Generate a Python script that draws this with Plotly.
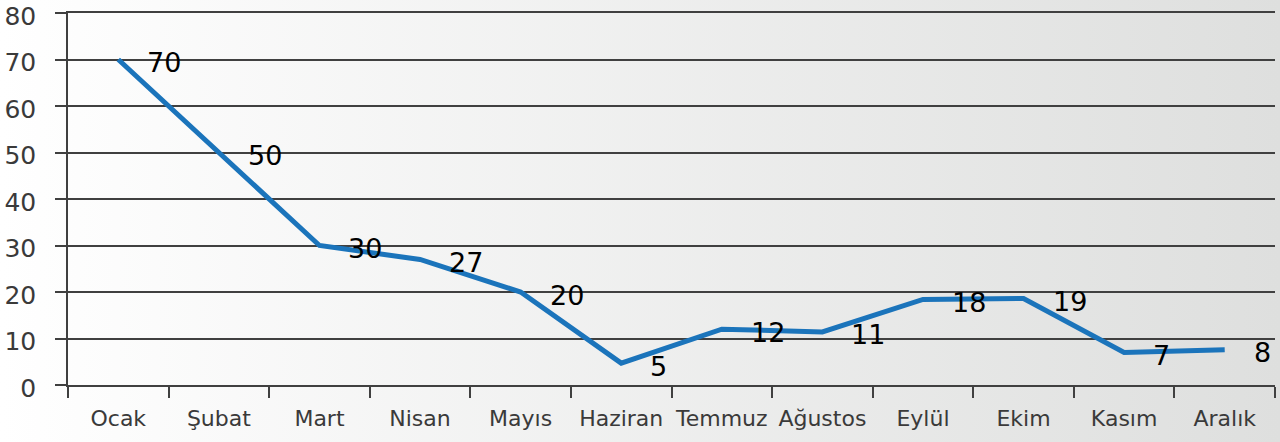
import base64
import plotly.graph_objects as go

months = ["Ocak", "Şubat", "Mart", "Nisan", "Mayıs", "Haziran", "Temmuz",
          "Ağustos", "Eylül", "Ekim", "Kasım", "Aralık"]
values = [70, 50, 30, 27, 20, 4.7, 12, 11.4, 18.4, 18.6, 7.0, 7.6]
labels = ["70", "50", "30", "27", "20", "5", "12", "11", "18", "19", "7", "8"]
y_ticks = [0, 10, 20, 30, 40, 50, 60, 70, 80]

FONT = "DejaVu Sans"
GRID = "#404040"

svg = ('<svg xmlns="http://www.w3.org/2000/svg" width="100" height="100" preserveAspectRatio="none">'
       '<defs><linearGradient id="g" x1="0" y1="0" x2="1" y2="0">'
       '<stop offset="0" stop-color="#ffffff"/><stop offset="1" stop-color="#dedfde"/>'
       '</linearGradient></defs><rect width="100" height="100" fill="url(#g)"/></svg>')
src = "data:image/svg+xml;base64," + base64.b64encode(svg.encode()).decode()

fig = go.Figure()
fig.add_trace(go.Scatter(
    x=months, y=values, mode="lines",
    line=dict(color="#1b74bb", width=5),
    hoverinfo="skip", showlegend=False,
))

for m, v, t in zip(months, values, labels):
    fig.add_annotation(
        x=m, y=v, text=t, showarrow=False,
        xanchor="left", yanchor="middle", xshift=27, yshift=-3,
        font=dict(family=FONT, size=27, color="#000000"),
    )

W, H = 1280, 442
ml, mr, mt, mb = 68, 5, 13, 57
pw, ph = W - ml - mr, H - mt - mb
fig.add_layout_image(dict(
    source=src, xref="paper", yref="paper",
    x=-ml / pw, y=1 + mt / ph, sizex=W / pw, sizey=H / ph,
    xanchor="left", yanchor="top", sizing="stretch", layer="below",
))

fig.update_layout(
    width=W, height=H,
    margin=dict(l=ml, r=mr, t=mt, b=mb, pad=0, autoexpand=False),
    paper_bgcolor="rgba(0,0,0,0)", plot_bgcolor="rgba(0,0,0,0)",
    font=dict(family=FONT, color="#3a3a3a"),
    xaxis=dict(
        type="category", tickson="boundaries", ticks="outside", ticklen=11,
        tickcolor=GRID, tickwidth=1.5, showgrid=False,
        showline=True, mirror=True, linecolor=GRID, linewidth=1.5,
        zeroline=False, automargin=False, tickangle=0,
        tickfont=dict(family=FONT, size=22, color="#3a3a3a"),
        ticklabelstandoff=13, range=[-0.5, 11.5],
    ),
    yaxis=dict(
        range=[0, 80], tickvals=y_ticks, showgrid=True, gridcolor=GRID,
        gridwidth=1.5, ticks="outside", ticklen=11, tickcolor=GRID,
        tickwidth=1.5, showline=True, linecolor=GRID, linewidth=1.5,
        zeroline=True, zerolinecolor=GRID, zerolinewidth=1.5,
        automargin=False, ticklabeloverflow="allow", ticklabelshift=3,
        tickfont=dict(family=FONT, size=25, color="#3a3a3a"),
        ticklabelstandoff=14,
    ),
)

fig.write_html("out.html", config={"displayModeBar": False},
               post_script="document.body.style.margin='0';document.body.style.padding='0';")
